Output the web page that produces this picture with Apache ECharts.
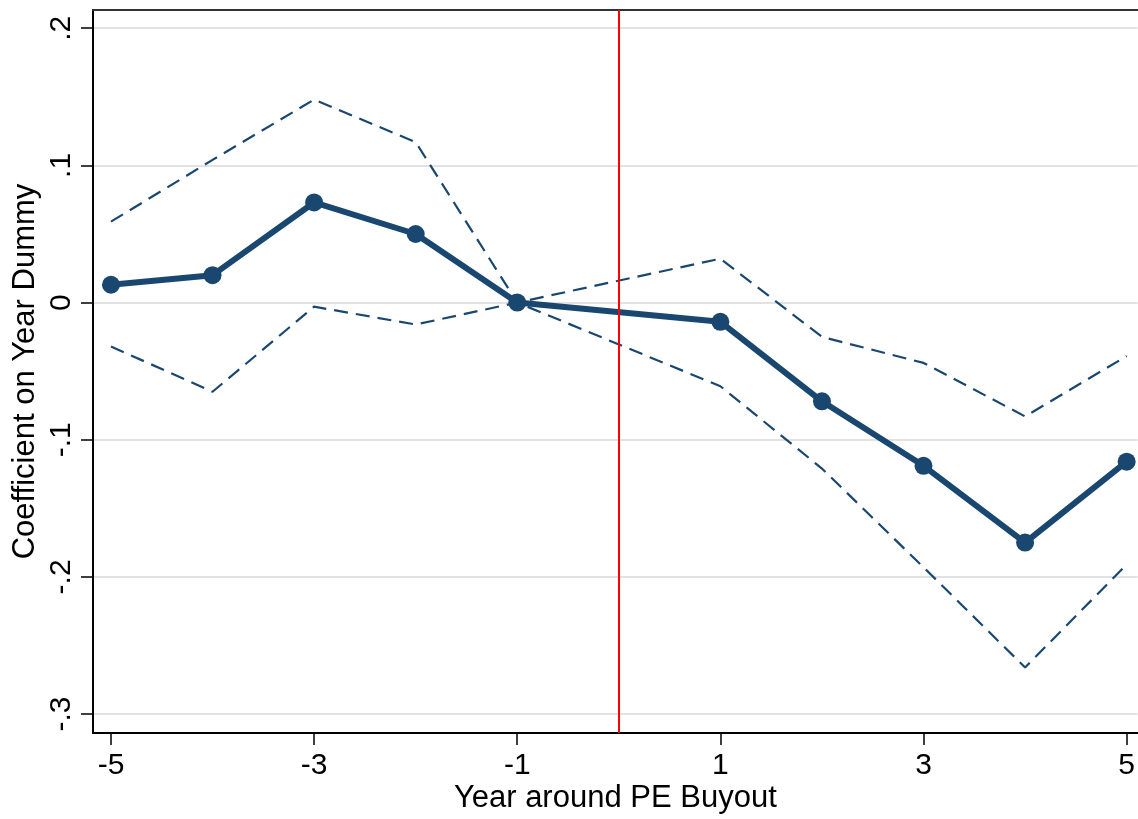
<!DOCTYPE html>
<html>
<head>
<meta charset="utf-8">
<script src="https://cdn.jsdelivr.net/npm/echarts@6/dist/echarts.min.js"></script>
<style>
html,body{margin:0;padding:0;background:#fff;}
#chart{width:1138px;height:819px;}
</style>
</head>
<body>
<div id="chart"></div>
<script>
// ---- Data ----
const years = [-5, -4, -3, -2, -1, 1, 2, 3, 4, 5];
const coef  = [0.013, 0.020, 0.073, 0.050, 0.000, -0.014, -0.072, -0.119, -0.175, -0.116];
const upper = [0.059, 0.104, 0.148, 0.117, 0.000, 0.032, -0.025, -0.044, -0.083, -0.039];
const lower = [-0.032, -0.065, -0.003, -0.016, 0.000, -0.061, -0.121, -0.193, -0.266, -0.191];
const buyoutYear = 0;
const xTickValues = [-5, -3, -1, 1, 3, 5];
const yTickValues = [-0.3, -0.2, -0.1, 0, 0.1, 0.2];
const yTickLabels = ['-.3', '-.2', '-.1', '0', '.1', '.2'];
const xTitle = 'Year around PE Buyout';
const yTitle = 'Coefficient on Year Dummy';

const pairs = arr => years.map((x, i) => [x, arr[i]]);
const navy = '#1a476f';
const font = '"Liberation Sans", Arial, sans-serif';
const xMin = -5.177, xMax = 5.108;

const chart = echarts.init(document.getElementById('chart'));
chart.setOption({
  animation: false,
  backgroundColor: '#fff',
  grid: { left: 93, top: 10, right: 0, bottom: 85, show: false },
  xAxis: [{
    type: 'value', min: xMin, max: xMax,
    name: xTitle, nameLocation: 'middle', nameGap: 50, nameMoveOverlap: false,
    nameTextStyle: { fontFamily: font, fontSize: 31, color: '#000' },
    axisLine: { show: true, onZero: false, lineStyle: { color: '#000', width: 2 } },
    axisTick: { show: true, length: 12, customValues: xTickValues, lineStyle: { color: '#000', width: 1.5 } },
    axisLabel: { customValues: xTickValues, margin: 18, fontFamily: font, fontSize: 30, color: '#000',
                 formatter: v => String(v) },
    splitLine: { show: false }
  }, {
    type: 'value', min: xMin, max: xMax, position: 'top',
    axisLine: { show: true, onZero: false, lineStyle: { color: '#333', width: 2 } },
    axisTick: { show: false }, axisLabel: { show: false }, splitLine: { show: false }
  }],
  yAxis: {
    type: 'value', min: -0.3138, max: 0.2133,
    name: yTitle, nameLocation: 'middle', nameGap: 52, nameMoveOverlap: false,
    nameTextStyle: { fontFamily: font, fontSize: 31, color: '#000' },
    axisLine: { show: true, onZero: false, lineStyle: { color: '#000', width: 2 } },
    axisTick: { show: true, length: 12, customValues: yTickValues, lineStyle: { color: '#000', width: 1.5 } },
    axisLabel: {
      customValues: yTickValues, rotate: 90, margin: 16, fontFamily: font, fontSize: 30, color: '#000',
      formatter: v => {
        let best = 0;
        yTickValues.forEach((t, i) => { if (Math.abs(t - v) < Math.abs(yTickValues[best] - v)) best = i; });
        return yTickLabels[best];
      }
    },
    splitLine: { show: true, lineStyle: { color: '#e2e2e2', width: 2 } }
  },
  series: [
    {
      type: 'line', data: [], z: 1, silent: true,
      markLine: {
        silent: true, symbol: 'none', label: { show: false },
        lineStyle: { color: '#ff0000', width: 2, type: 'solid' },
        data: [{ xAxis: buyoutYear }]
      }
    },
    {
      type: 'line', data: pairs(upper), z: 2, symbol: 'none',
      lineStyle: { color: navy, width: 2.2, type: [14, 8] }
    },
    {
      type: 'line', data: pairs(lower), z: 2, symbol: 'none',
      lineStyle: { color: navy, width: 2.2, type: [14, 8] }
    },
    {
      type: 'line', data: pairs(coef), z: 3, symbol: 'circle', symbolSize: 18,
      itemStyle: { color: navy }, lineStyle: { color: navy, width: 6 }
    }
  ]
});
</script>
</body>
</html>
